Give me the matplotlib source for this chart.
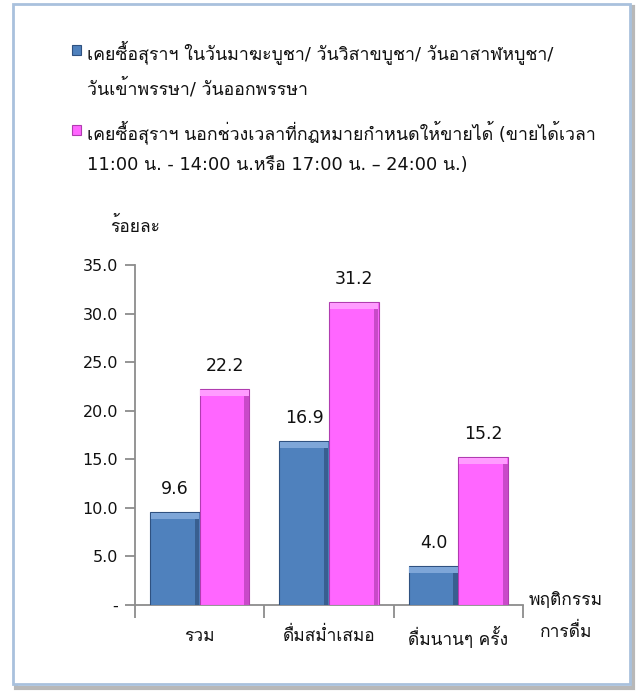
import numpy as np
import matplotlib
matplotlib.use("Agg")
import matplotlib.pyplot as plt
from matplotlib.patches import Rectangle

plt.rcParams['font.family'] = ['DejaVu Sans', 'Loma']

categories = ['รวม', 'ดื่มสม่ำเสมอ', 'ดื่มนานๆ ครั้ง']
holy_days = [9.6, 16.9, 4.0]
outside_hours = [22.2, 31.2, 15.2]
series_labels = [
    'เคยซื้อสุราฯ ในวันมาฆะบูชา/ วันวิสาขบูชา/ วันอาสาฬหบูชา/\nวันเข้าพรรษา/ วันออกพรรษา',
    'เคยซื้อสุราฯ นอกช่วงเวลาที่กฎหมายกำหนดให้ขายได้ (ขายได้เวลา\n11:00 น. - 14:00 น.หรือ 17:00 น. – 24:00 น.)',
]
yticks = [0, 5, 10, 15, 20, 25, 30, 35]
ytick_labels = ['-', '5.0', '10.0', '15.0', '20.0', '25.0', '30.0', '35.0']

# face, edge, top highlight, right shade
blue = ('#4f81bd', '#2f5180', '#7ea6d8', '#385f90')
pink = ('#ff66ff', '#b03cb0', '#ff9cff', '#c94ac9')

W, H = 641, 691
fig = plt.figure(figsize=(W / 100, H / 100), dpi=100)

# outer frame with a soft shadow
fig.patches.append(Rectangle((16 / W, 1 - 688 / H), 617 / W, 681 / H,
                             transform=fig.transFigure, facecolor='none',
                             edgecolor='#b8b8b8', lw=3, zorder=-2))
fig.patches.append(Rectangle((13 / W, 1 - 684 / H), 617 / W, 680 / H,
                             transform=fig.transFigure, facecolor='white',
                             edgecolor='#a9c1dd', lw=2, zorder=-1))

ax = fig.add_axes([135 / W, 1 - 605 / H, (523 - 135) / W, (605 - 265) / H])
ax.set_facecolor('none')

x = np.arange(len(categories))
bw = 0.385
bev_y = 0.65   # bevel depth in data units
bev_x = 0.035
for off, vals, (fc, ec, hi, sh) in ((-bw / 2, holy_days, blue), (bw / 2, outside_hours, pink)):
    vals = np.array(vals)
    pos = x + off
    bars = ax.bar(pos, vals, bw, color=fc, edgecolor=ec, lw=0.8, zorder=3)
    # simple bevel: light top strip, dark right strip
    ax.bar(pos, bev_y, bw * 0.97, bottom=vals - bev_y - 0.08, color=hi, lw=0, zorder=4)
    ax.bar(pos + bw / 2 - bev_x / 2 - 0.004, vals - bev_y - 0.08, bev_x, color=sh, lw=0, zorder=4)
    for r, v in zip(bars, vals):
        ax.annotate(f'{v:.1f}', (r.get_x() + r.get_width() / 2, v),
                    xytext=(0, 10), textcoords='offset points',
                    ha='center', va='bottom', fontsize=12.5, color='#111111')

ax.set_xlim(-0.5, len(categories) - 0.5)
ax.set_ylim(0, 35)
ax.set_yticks(yticks)
ax.set_yticklabels(ytick_labels)
ax.set_xticks(x)
ax.set_xticklabels(categories)
ax.set_xticks(np.arange(len(categories) + 1) - 0.5, minor=True)

for s in ('top', 'right'):
    ax.spines[s].set_visible(False)
for s in ('left', 'bottom'):
    ax.spines[s].set_color('#8c8c8c')
    ax.spines[s].set_linewidth(1.3)

ax.tick_params(axis='y', direction='out', length=7, width=1.3, color='#8c8c8c',
               labelsize=11.5, pad=5, labelcolor='#111111')
ax.tick_params(axis='x', which='major', length=0, pad=16, labelsize=12.5,
               labelcolor='#111111')
ax.tick_params(axis='x', which='minor', direction='out', length=9, width=1.3,
               color='#8c8c8c')

fig.text(110 / W, 1 - 226 / H, 'ร้อยละ', fontsize=12.5, ha='left', va='center',
         color='#111111')
fig.text(566 / W, 1 - 616 / H, 'พฤติกรรม\nการดื่ม', fontsize=12.5, ha='center',
         va='center', linespacing=2.0, color='#111111')

# legend drawn by hand, swatch beside the first line of each label
for i, (lab, col) in enumerate(zip(series_labels, [blue, pink])):
    y0 = [50, 130][i]
    fig.patches.append(Rectangle((72 / W, 1 - (y0 + 5) / H), 9 / W, 10 / H,
                                 transform=fig.transFigure, facecolor=col[0],
                                 edgecolor=col[1], lw=0.8, zorder=3))
    fig.text(87 / W, 1 - (y0 - 10) / H, lab, fontsize=12.8, ha='left', va='top',
             linespacing=1.85, color='#111111')

fig.savefig('out.png', dpi=100)
